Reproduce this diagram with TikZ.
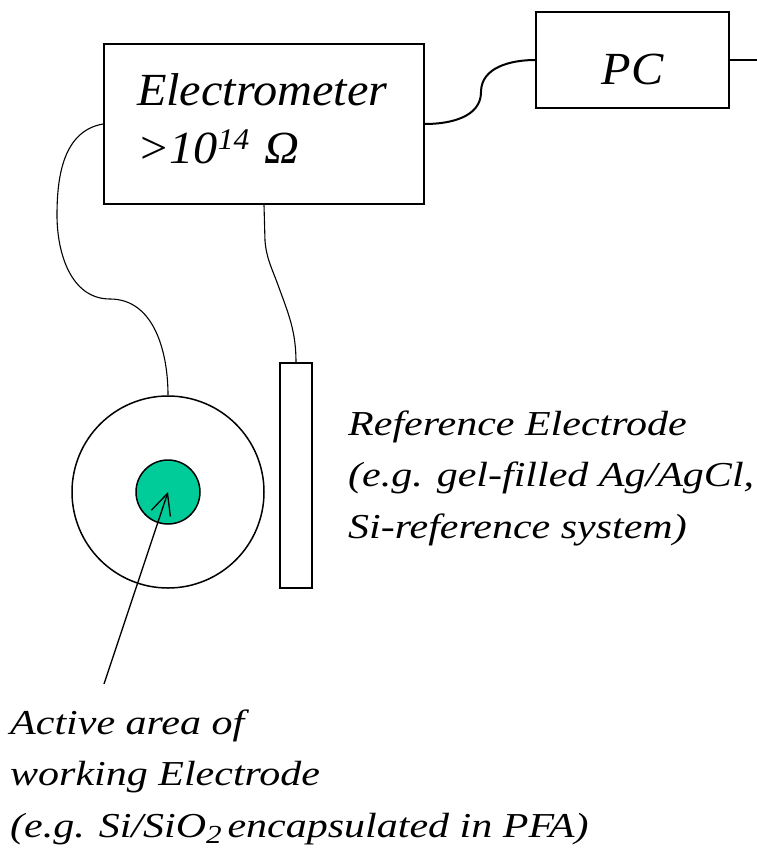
\documentclass[tikz,border=0pt]{standalone}
\usepackage{fontspec}
\setmainfont{Liberation Serif}
\newfontfamily\boxfont[FakeStretch=1.05]{Liberation Serif}
\newfontfamily\notefont[FakeStretch=1.2]{Liberation Serif}
\usepackage{xcolor}
\definecolor{cActive}{HTML}{00CC99}
\usepackage{tikz}
\usetikzlibrary{arrows.meta}
\tikzset{
  node-device/.style={draw,line width=2pt,inner sep=0pt,
    font=\boxfont\itshape\fontsize{46}{58}\selectfont},
  node-note/.style={inner sep=0pt,anchor=base west,align=left,
    font=\notefont\itshape\fontsize{35}{51.5}\selectfont},
  node-disc/.style={draw,circle,line width=1.5pt,inner sep=0pt},
  cable/.style={line width=1.1pt},
  cable-bus/.style={line width=2pt},
  arrow-pointer/.style={-{Straight Barb[length=21pt,width=20pt]},line width=1.3pt},
}

\begin{document}
\begin{tikzpicture}[x=1pt,y=-1pt]
  \useasboundingbox (0,0) rectangle (757,848);
  % instruments
  \node[node-device,minimum width=320pt,minimum height=160pt,
    text width=254pt,text depth=69pt,align=left] (elec) at (264,124)
    {Electrometer\\>10\raisebox{14pt}{\fontsize{30}{30}\selectfont 14} Ω};
  \node[node-device,minimum width=193pt,minimum height=96pt,
    text height=50pt,text depth=0pt] (pc) at (632.5,60) {PC};
  \coordinate (pcout) at (757,60);

  % electrodes
  \node[node-disc,minimum size=192pt] (we) at (168,492) {};
  \node[node-disc,fill=cActive,minimum size=64pt] (active) at (168,492) {};
  \node[draw,line width=1.8pt,inner sep=0pt,minimum width=32pt,
    minimum height=225pt] (rod) at (296,475.5) {};

  % cables
  \draw[cable-bus] (elec.east) to[out=0,in=-90] (481,92)
    to[out=90,in=180] (pc.west);
  \draw[cable-bus] (pc.east) -- (pcout);
  \draw[cable] (elec.west) to[out=190,in=90] (57,215)
    to[out=-90,in=180] (110,299) to[out=0,in=90] (we.north);
  \draw[cable] (elec.south) -- ++(1,36) to[out=-85,in=110] (278,285)
    to[out=-70,in=90] (rod.north);

  % labels
  \node[node-note] (reftext) at (348,538)
    {Reference Electrode\\(e.g. gel-filled Ag/AgCl,\\Si-reference system)};
  \node[node-note] (acttext) at (10,837)
    {Active area of\\working Electrode\\(e.g. Si/SiO\raisebox{-6pt}{\fontsize{26}{26}\selectfont 2}\,encapsulated in PFA)};
  \coordinate (ptr) at (104,684);
  \draw[arrow-pointer] (ptr) -- (active.center);
\end{tikzpicture}
\end{document}
